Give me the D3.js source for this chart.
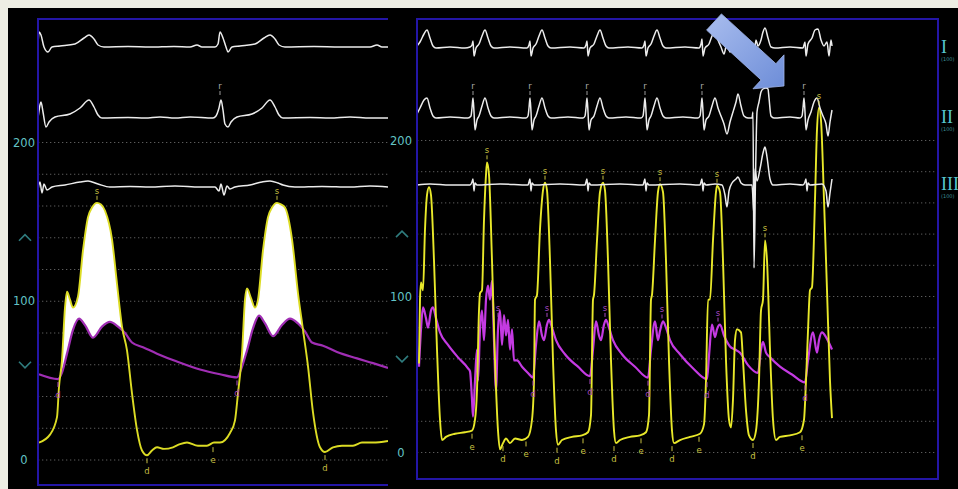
<!DOCTYPE html>
<html>
<head>
<meta charset="utf-8">
<script src="https://cdn.jsdelivr.net/npm/d3@7"></script>
<style>
html, body { margin: 0; padding: 0; background: #eeeee4; }
svg { display: block; }
</style>
</head>
<body>
<script>
// ---- données : [temps (s), mmHg] pour les pressions, [temps (s), mV] pour l'ECG ----

// panneau gauche (2 battements, balayage lent)
const leftLV = [[0.005,11],[0.060,16],[0.095,27],[0.105,46],[0.120,63],[0.135,96],[0.145,106],[0.160,101],[0.175,96],[0.200,103],[0.225,132],[0.250,153],[0.270,159],[0.295,162],[0.315,161],[0.335,157],[0.370,139],[0.395,111],[0.420,84],[0.445,69],[0.470,42],[0.495,19],[0.520,6],[0.545,3],[0.570,6],[0.595,8],[0.630,7],[0.675,8],[0.710,10],[0.745,11],[0.800,9],[0.845,9],[0.880,11],[0.910,11],[0.960,17],[0.985,25],[1.000,42],[1.020,67],[1.035,101],[1.045,108],[1.065,102],[1.085,96],[1.100,101],[1.125,132],[1.150,153],[1.170,159],[1.195,162],[1.215,161],[1.235,159],[1.270,139],[1.300,105],[1.325,82],[1.350,59],[1.375,30],[1.410,8],[1.435,5],[1.475,8],[1.520,9],[1.575,9],[1.620,11],[1.675,11],[1.750,12]];
const leftAo = [[0.005,54],[0.100,51],[0.120,55],[0.145,67],[0.175,82],[0.205,89],[0.235,85],[0.275,77],[0.320,84],[0.360,87],[0.400,84],[0.435,80],[0.470,74],[0.525,71],[0.595,67],[0.695,62],[0.810,57],[0.910,54],[0.995,52],[1.015,57],[1.045,69],[1.075,83],[1.105,91],[1.135,86],[1.175,78],[1.220,85],[1.260,89],[1.300,86],[1.335,81],[1.370,74],[1.425,72],[1.495,68],[1.595,64],[1.675,61],[1.750,58]];
const leftLeadI = [[0,0.1],[0.005,0.75],[0.015,0.6],[0.03,0],[0.05,-0.25],[0.07,0],[0.11,0.05],[0.185,0.15],[0.23,0.45],[0.255,0.6],[0.28,0.4],[0.30,0.1],[0.33,0],[0.45,0.02],[0.56,0],[0.68,0.03],[0.76,0],[0.795,0.1],[0.82,0],[0.885,0],[0.90,0.15],[0.91,0.75],[0.925,0.45],[0.94,0],[0.95,-0.25],[0.97,0],[1.01,0.05],[1.085,0.15],[1.13,0.45],[1.16,0.6],[1.185,0.4],[1.205,0.1],[1.235,0],[1.38,0.02],[1.51,0],[1.66,0],[1.695,0.1],[1.72,0],[1.75,0]];
const leftLeadII = [[0,0],[0.01,0.65],[0.015,0.8],[0.025,0.3],[0.04,-0.45],[0.055,-0.2],[0.085,0.05],[0.16,0.2],[0.21,0.5],[0.255,0.9],[0.28,0.55],[0.30,0.15],[0.32,0],[0.45,0.02],[0.535,0],[0.61,0.05],[0.685,0],[0.76,0.05],[0.875,0],[0.89,0.1],[0.905,0.5],[0.915,0.9],[0.925,0.4],[0.935,-0.3],[0.95,-0.45],[0.965,-0.2],[0.995,0.05],[1.07,0.2],[1.12,0.5],[1.16,0.9],[1.185,0.55],[1.205,0.15],[1.225,0],[1.36,0.02],[1.46,0],[1.56,0.05],[1.66,0],[1.75,0]];
const leftLeadIII = [[0,-0.15],[0.01,0.25],[0.02,-0.3],[0.03,0.15],[0.045,-0.15],[0.07,0],[0.135,0.1],[0.21,0.25],[0.25,0.3],[0.30,0.15],[0.36,0],[0.46,0.03],[0.56,0],[0.685,0.05],[0.81,0],[0.885,0],[0.905,-0.2],[0.915,0.15],[0.93,-0.4],[0.945,0.05],[0.96,-0.1],[0.985,0],[1.06,0.1],[1.12,0.25],[1.16,0.3],[1.20,0.2],[1.225,0.1],[1.285,0],[1.42,0.03],[1.56,0],[1.66,0.05],[1.75,0]];

// panneau droit (rythme rapide, extrasystoles)
const rightLV = [[0.02,57],[0.03,98],[0.04,109],[0.06,104],[0.08,143],[0.10,165],[0.12,170],[0.14,165],[0.17,123],[0.20,66],[0.23,21],[0.25,8],[0.29,10],[0.38,12],[0.48,13],[0.55,14],[0.58,21],[0.60,40],[0.62,91],[0.63,102],[0.65,104],[0.67,149],[0.69,178],[0.70,186],[0.72,178],[0.75,123],[0.78,59],[0.81,14],[0.83,2],[0.86,6],[0.89,9],[0.93,6],[0.98,9],[1.05,8],[1.11,10],[1.15,21],[1.17,46],[1.18,98],[1.20,101],[1.23,143],[1.26,168],[1.28,173],[1.30,168],[1.33,123],[1.36,59],[1.39,14],[1.41,5],[1.45,8],[1.55,10],[1.65,11],[1.71,13],[1.74,24],[1.76,98],[1.77,101],[1.80,136],[1.83,167],[1.86,173],[1.88,168],[1.91,123],[1.94,59],[1.97,14],[1.99,6],[2.03,8],[2.13,10],[2.23,11],[2.29,13],[2.32,24],[2.34,98],[2.35,101],[2.38,136],[2.41,167],[2.43,172],[2.46,167],[2.49,123],[2.52,59],[2.55,14],[2.57,6],[2.63,8],[2.73,10],[2.83,12],[2.87,18],[2.89,46],[2.91,98],[2.93,98],[2.96,136],[2.99,167],[3.00,171],[3.03,167],[3.06,123],[3.09,59],[3.12,21],[3.14,16],[3.16,34],[3.18,72],[3.20,79],[3.24,77],[3.26,59],[3.29,27],[3.32,11],[3.36,8],[3.39,14],[3.42,46],[3.44,91],[3.46,98],[3.48,136],[3.50,123],[3.53,66],[3.56,21],[3.59,8],[3.63,10],[3.73,11],[3.83,13],[3.87,21],[3.89,46],[3.91,78],[3.93,104],[3.95,106],[3.98,162],[4.00,207],[4.02,221],[4.04,213],[4.07,162],[4.10,104],[4.13,46],[4.15,22]];
const rightAo = [[0.02,55],[0.04,79],[0.06,93],[0.09,86],[0.11,80],[0.14,91],[0.16,93],[0.19,86],[0.23,77],[0.31,69],[0.41,61],[0.51,54],[0.53,52],[0.55,34],[0.56,23],[0.58,46],[0.60,66],[0.61,46],[0.63,79],[0.65,91],[0.67,72],[0.69,98],[0.71,107],[0.73,98],[0.75,110],[0.77,72],[0.79,40],[0.81,79],[0.83,91],[0.85,69],[0.87,88],[0.89,75],[0.91,85],[0.93,66],[0.95,79],[0.97,59],[1.00,59],[1.05,55],[1.11,51],[1.16,48],[1.19,69],[1.22,84],[1.25,75],[1.27,72],[1.30,82],[1.32,85],[1.35,80],[1.39,72],[1.48,63],[1.61,55],[1.73,49],[1.76,66],[1.79,84],[1.82,75],[1.84,72],[1.87,82],[1.89,85],[1.92,80],[1.96,72],[2.05,63],[2.18,55],[2.31,48],[2.34,66],[2.38,84],[2.41,72],[2.43,78],[2.46,84],[2.49,80],[2.53,72],[2.63,63],[2.76,54],[2.90,47],[2.92,62],[2.95,82],[2.98,74],[3.00,79],[3.03,82],[3.07,75],[3.13,68],[3.18,66],[3.23,64],[3.31,56],[3.41,51],[3.44,66],[3.46,71],[3.49,64],[3.53,61],[3.63,55],[3.75,50],[3.88,45],[3.91,59],[3.96,77],[4.00,64],[4.02,72],[4.05,77],[4.09,74],[4.15,66]];
const rightLeadI = [[0,0.1],[0.03,0.3],[0.07,0.7],[0.10,0.9],[0.13,0.5],[0.16,0.1],[0.19,0],[0.33,0.05],[0.48,0],[0.53,0.05],[0.55,0.15],[0.56,0.35],[0.57,-0.4],[0.59,0],[0.62,0.2],[0.65,0.6],[0.68,0.9],[0.71,0.5],[0.74,0.1],[0.77,0],[0.93,0.05],[1.10,0],[1.12,0.15],[1.13,0.35],[1.14,-0.4],[1.16,0],[1.19,0.2],[1.22,0.6],[1.25,0.9],[1.28,0.5],[1.31,0.1],[1.34,0],[1.53,0.05],[1.67,0],[1.69,0.15],[1.70,0.35],[1.71,-0.4],[1.73,0],[1.77,0.2],[1.80,0.6],[1.83,0.9],[1.86,0.5],[1.89,0.1],[1.92,0],[2.11,0.05],[2.25,0],[2.27,0.15],[2.28,0.35],[2.29,-0.4],[2.31,0],[2.34,0.2],[2.37,0.6],[2.40,0.9],[2.43,0.5],[2.46,0.1],[2.49,0],[2.68,0.05],[2.82,0],[2.84,0.2],[2.85,0.45],[2.86,-0.4],[2.88,0],[2.92,0.2],[2.95,0.6],[2.98,0.85],[3.01,0.4],[3.04,0.05],[3.07,-0.3],[3.10,0.25],[3.13,-0.2],[3.16,0.3],[3.19,0.6],[3.22,0.2],[3.25,0],[3.33,0],[3.37,-0.3],[3.39,0.4],[3.41,0.1],[3.44,0.4],[3.46,0.8],[3.48,1.0],[3.51,0.5],[3.54,0.05],[3.58,0],[3.73,0.05],[3.86,0],[3.88,0.3],[3.89,-0.4],[3.91,0.2],[3.95,0.5],[3.98,0.9],[4.01,0.95],[4.04,0.4],[4.07,0.1],[4.10,0.3],[4.12,-0.4],[4.14,0.4],[4.15,0.1]];
const rightLeadII = [[0,0.2],[0.03,0.5],[0.07,0.9],[0.10,1.0],[0.13,0.5],[0.16,0.1],[0.19,0],[0.33,0.05],[0.51,0],[0.54,0.1],[0.55,0.5],[0.56,1.0],[0.57,0.3],[0.58,-0.6],[0.60,-0.1],[0.62,0.1],[0.65,0.6],[0.68,1.0],[0.71,0.5],[0.74,0.1],[0.77,0],[0.93,0.05],[1.09,0],[1.11,0.1],[1.12,0.5],[1.13,1.0],[1.14,0.3],[1.15,-0.6],[1.17,-0.1],[1.19,0.1],[1.22,0.6],[1.25,1.0],[1.28,0.5],[1.31,0.1],[1.34,0],[1.51,0.05],[1.66,0],[1.68,0.1],[1.69,0.5],[1.70,1.0],[1.71,0.3],[1.72,-0.6],[1.74,-0.1],[1.77,0.1],[1.80,0.6],[1.83,1.0],[1.86,0.5],[1.89,0.1],[1.92,0],[2.09,0.05],[2.24,0],[2.26,0.1],[2.27,0.5],[2.28,1.0],[2.29,0.3],[2.30,-0.6],[2.32,-0.1],[2.34,0.1],[2.37,0.6],[2.40,1.0],[2.43,0.5],[2.46,0.1],[2.49,0],[2.66,0.05],[2.81,0],[2.83,0.1],[2.84,0.5],[2.85,1.0],[2.86,0.3],[2.87,-0.6],[2.89,-0.1],[2.92,0.1],[2.95,0.6],[2.98,1.0],[3.01,0.5],[3.04,0.1],[3.07,-0.3],[3.10,-0.8],[3.13,-0.2],[3.16,0.3],[3.19,0.8],[3.21,1.2],[3.24,0.6],[3.27,0.1],[3.31,0],[3.35,0],[3.36,0.3],[3.37,-7.5],[3.385,-3],[3.40,0.3],[3.42,0.8],[3.44,1.3],[3.46,1.45],[3.49,1.5],[3.51,1.45],[3.52,1.0],[3.54,0.1],[3.57,0],[3.73,0.05],[3.83,0],[3.85,0.1],[3.86,0.5],[3.87,1.0],[3.88,0.3],[3.89,-0.6],[3.91,-0.1],[3.94,0.3],[3.97,0.8],[4.00,1.0],[4.03,0.5],[4.06,0.1],[4.09,-0.3],[4.11,-0.9],[4.13,-0.2],[4.15,0.4]];
const rightLeadIII = [[0,0],[0.13,0.05],[0.33,0],[0.53,0],[0.55,0.15],[0.56,0.3],[0.57,-0.3],[0.58,0.1],[0.60,0],[0.83,0.05],[1.11,0],[1.12,0.15],[1.13,0.3],[1.14,-0.3],[1.15,0.1],[1.17,0],[1.43,0.05],[1.68,0],[1.69,0.15],[1.70,0.3],[1.71,-0.3],[1.72,0.1],[1.74,0],[2.03,0.05],[2.26,0],[2.27,0.15],[2.28,0.3],[2.29,-0.3],[2.30,0.1],[2.32,0],[2.63,0.05],[2.83,0],[2.84,0.15],[2.85,0.3],[2.86,-0.3],[2.87,0.1],[2.89,0],[2.98,0.05],[3.05,0],[3.08,-0.5],[3.10,-1.1],[3.12,-0.3],[3.15,0.1],[3.19,0.3],[3.21,0.4],[3.24,0.1],[3.28,0],[3.35,0],[3.37,-1.5],[3.38,0.8],[3.40,0.2],[3.43,0.8],[3.46,1.6],[3.48,1.9],[3.50,1.4],[3.53,0.3],[3.56,0],[3.73,0.05],[3.86,0],[3.88,0.15],[3.89,0.3],[3.90,-0.3],[3.91,0.1],[3.93,0],[4.05,0.05],[4.09,-0.3],[4.11,-1.1],[4.13,-0.4],[4.15,0.3]];

// repères (s = systole, d = diastole, e = télédiastole, r = onde R)
const leftMarks = [
  { t: 0.295, v: 162, ch: "s", on: "lv", up: true },
  { t: 1.195, v: 162, ch: "s", on: "lv", up: true },
  { t: 0.100, v: 51, ch: "d", on: "ao", up: false },
  { t: 0.995, v: 52, ch: "d", on: "ao", up: false },
  { t: 0.545, v: 3, ch: "d", on: "lv", up: false },
  { t: 0.875, v: 10, ch: "e", on: "lv", up: false },
  { t: 1.435, v: 5, ch: "d", on: "lv", up: false },
  { t: 0.910, v: 1.0, ch: "r", on: "ii", up: true }
];
const rightSystole = [[0.70,186],[1.28,173],[1.86,173],[2.43,172],[3.00,171],[3.48,136],[4.02,221]];
const rightAoSystole = [[0.81,85],[1.30,85],[1.88,85],[2.45,84],[3.01,82]];
const rightAoDiastole = [[1.16,48],[1.73,49],[2.31,48],[2.90,47],[3.88,45]];
const rightEndDiastole = [[0.55,14],[1.09,9],[1.66,11],[2.24,11],[2.82,12],[3.85,13]];
const rightLVMin = [[0.86,6],[1.40,5],[1.97,6],[2.55,6],[3.36,8]];
const rightRWaves = [0.56, 1.13, 1.70, 2.28, 2.85, 3.87];

const pressureLabels = [200, 100, 0];
const alarmLimits = [140, 60];
const leadNames = ["I", "II", "III"];

// ---- mise en page ----
const W = 958, H = 489;
const svg = d3.select("body").append("svg").attr("width", W).attr("height", H);
svg.append("rect").attr("width", W).attr("height", H).attr("fill", "#eeeee4");
svg.append("rect").attr("x", 8).attr("y", 8).attr("width", W - 8).attr("height", H - 8).attr("fill", "#000");

const defs = svg.append("defs");

function drawPanel(cfg) {
  const x = d3.scaleLinear().domain(cfg.tDomain).range([cfg.x0, cfg.x1]);
  const y = d3.scaleLinear().domain([0, 200]).range([cfg.zeroY, cfg.topY]);
  const leads = cfg.leadBase.map(b => d3.scaleLinear().domain([-1, 1]).range([b + 20, b - 20]));
  const g = svg.append("g");

  defs.append("clipPath").attr("id", cfg.id + "-clip")
    .append("rect").attr("x", cfg.x0).attr("y", cfg.y0)
    .attr("width", cfg.x1 - cfg.x0).attr("height", cfg.y1 - cfg.y0);

  // grille pointillée tous les 20 mmHg
  g.selectAll(".grid").data(y.ticks(10)).enter().append("line")
    .attr("x1", cfg.x0).attr("x2", cfg.gridX1)
    .attr("y1", d => y(d)).attr("y2", d => y(d))
    .attr("stroke", "#5c5c5c").attr("stroke-width", 1)
    .attr("stroke-dasharray", "1.3,2.7");

  // étiquettes de l'échelle
  g.selectAll(".lbl").data(pressureLabels).enter().append("text")
    .attr("x", cfg.labelX).attr("y", d => y(d) + 4)
    .attr("text-anchor", "middle")
    .attr("font-family", "DejaVu Sans, sans-serif").attr("font-size", 11.5)
    .attr("fill", "#63c4c6")
    .text(d => d);

  // chevrons des alarmes haute / basse
  g.selectAll(".alarm").data(alarmLimits).enter().append("path")
    .attr("d", (d, i) => {
      const cx = cfg.labelX + 1, cy = y(d), s = i === 0 ? -1 : 1;
      return "M" + (cx - 6) + "," + (cy - 3 * s) + "L" + cx + "," + (cy + 3 * s) + "L" + (cx + 6) + "," + (cy - 3 * s);
    })
    .attr("fill", "none").attr("stroke", "#2f7c7e").attr("stroke-width", 1.6);

  const body = g.append("g").attr("clip-path", "url(#" + cfg.id + "-clip)");
  const curve = d3.curveMonotoneX;

  // zone blanche entre VG et aorte (gradient transvalvulaire)
  if (cfg.fill) {
    defs.append("clipPath").attr("id", cfg.id + "-ao")
      .append("path")
      .attr("d", d3.area().x(d => x(d[0])).y0(cfg.y0).y1(d => y(d[1])).curve(curve)(cfg.ao));
    body.append("path")
      .attr("d", d3.area().x(d => x(d[0])).y0(cfg.y1).y1(d => y(d[1])).curve(curve)(cfg.lv))
      .attr("fill", "#ffffff").attr("clip-path", "url(#" + cfg.id + "-ao)");
  }

  const pLine = d3.line().x(d => x(d[0])).y(d => y(d[1])).curve(curve);
  body.append("path").attr("d", pLine(cfg.ao))
    .attr("fill", "none").attr("stroke", cfg.aoColor).attr("stroke-width", 2.2);
  body.append("path").attr("d", pLine(cfg.lv))
    .attr("fill", "none").attr("stroke", cfg.lvColor).attr("stroke-width", 1.9);

  cfg.ecg.forEach((series, i) => {
    const l = d3.line().x(d => x(d[0])).y(d => leads[i](d[1])).curve(curve);
    body.append("path").attr("d", l(series))
      .attr("fill", "none").attr("stroke", "#ececec").attr("stroke-width", 1.5);
  });

  // repères
  const markG = g.append("g");
  cfg.marks.forEach(m => {
    const px = x(m.t);
    const py = m.on === "ii" ? leads[1](m.v) : y(m.v);
    const col = m.on === "ao" ? cfg.aoMark : cfg.lvMark;
    const ly = m.up ? py - 12 : py + 16;
    markG.append("line")
      .attr("x1", px).attr("x2", px)
      .attr("y1", m.up ? py - 3 : py + 3).attr("y2", m.up ? py - 7 : py + 8)
      .attr("stroke", m.on === "ii" ? "#9a9a9a" : col).attr("stroke-width", 1);
    markG.append("text")
      .attr("x", px).attr("y", ly + 3)
      .attr("text-anchor", "middle")
      .attr("font-family", "DejaVu Sans, sans-serif").attr("font-size", 8.5)
      .attr("fill", m.on === "ii" ? "#a8a8a8" : col)
      .text(m.ch);
  });

  // cadre bleu
  g.append("path").attr("d", cfg.frame(cfg))
    .attr("fill", "none").attr("stroke", "#2416a6").attr("stroke-width", 2);

  return { x, y, leads };
}

drawPanel({
  id: "left", tDomain: [0, 1.75],
  x0: 38, x1: 388, y0: 19, y1: 485, gridX1: 388,
  zeroY: 460, topY: 142.5, labelX: 24,
  leadBase: [47, 118, 187],
  lv: leftLV, ao: leftAo, ecg: [leftLeadI, leftLeadII, leftLeadIII],
  fill: true,
  lvColor: "#dcdc24", aoColor: "#a02eb4",
  lvMark: "#c4bc40", aoMark: "#b04cc4",
  marks: leftMarks,
  frame: c => "M" + c.x1 + "," + c.y0 + "H" + c.x0 + "V" + c.y1 + "H" + c.x1
});

const rightMarks = []
  .concat(rightSystole.map(d => ({ t: d[0], v: d[1], ch: "s", on: "lv", up: true })))
  .concat(rightAoSystole.map(d => ({ t: d[0], v: d[1], ch: "s", on: "ao", up: true })))
  .concat(rightAoDiastole.map(d => ({ t: d[0], v: d[1], ch: "d", on: "ao", up: false })))
  .concat(rightEndDiastole.map(d => ({ t: d[0], v: d[1], ch: "e", on: "lv", up: false })))
  .concat(rightLVMin.map(d => ({ t: d[0], v: d[1], ch: "d", on: "lv", up: false })))
  .concat(rightRWaves.map(t => ({ t: t, v: 1.0, ch: "r", on: "ii", up: true })));

const R = drawPanel({
  id: "right", tDomain: [0, 5.21],
  x0: 417, x1: 938, y0: 19, y1: 479, gridX1: 935,
  zeroY: 452.5, topY: 140.5, labelX: 401,
  leadBase: [48, 118, 185],
  lv: rightLV, ao: rightAo, ecg: [rightLeadI, rightLeadII, rightLeadIII],
  fill: false,
  lvColor: "#e8e82a", aoColor: "#c43ae2",
  lvMark: "#c8c040", aoMark: "#a848c0",
  marks: rightMarks,
  frame: c => "M" + c.x0 + "," + c.y0 + "H" + c.x1 + "V" + c.y1 + "H" + c.x0 + "Z"
});

// noms des dérivations à droite
const leadG = svg.append("g");
leadNames.forEach((n, i) => {
  const by = R.leads[i](0);
  leadG.append("text")
    .attr("x", 941).attr("y", by + 5)
    .attr("font-family", "Liberation Serif, DejaVu Serif, serif").attr("font-size", 18)
    .attr("fill", "#58c6cf").text(n);
  leadG.append("text")
    .attr("x", 941).attr("y", by + 13)
    .attr("font-family", "DejaVu Sans, sans-serif").attr("font-size", 5)
    .attr("fill", "#3d8f96").text("(100)");
});

// flèche bleue vers l'extrasystole
const grad = defs.append("linearGradient").attr("id", "arrowGrad")
  .attr("x1", "0%").attr("y1", "0%").attr("x2", "100%").attr("y2", "100%");
grad.append("stop").attr("offset", "0%").attr("stop-color", "#a9bdee");
grad.append("stop").attr("offset", "100%").attr("stop-color", "#6d8dd8");

const tail = [R.x(2.97), R.leads[0](1.3)];
const tip = [R.x(3.67), R.leads[1](1.6)];
const dx = tip[0] - tail[0], dy = tip[1] - tail[1], len = Math.hypot(dx, dy);
const ux = dx / len, uy = dy / len, nx = -uy, ny = ux;
const bx = tip[0] - 21 * ux, by = tip[1] - 21 * uy;
const pts = [
  [tail[0] + 11 * nx, tail[1] + 11 * ny],
  [bx + 11 * nx, by + 11 * ny],
  [bx + 23 * nx, by + 23 * ny],
  tip,
  [bx - 23 * nx, by - 23 * ny],
  [bx - 11 * nx, by - 11 * ny],
  [tail[0] - 11 * nx, tail[1] - 11 * ny]
];
svg.append("path")
  .attr("d", d3.line()(pts) + "Z")
  .attr("fill", "url(#arrowGrad)")
  .attr("stroke", "#9fb4e8").attr("stroke-width", 0.8);
</script>
</body>
</html>
